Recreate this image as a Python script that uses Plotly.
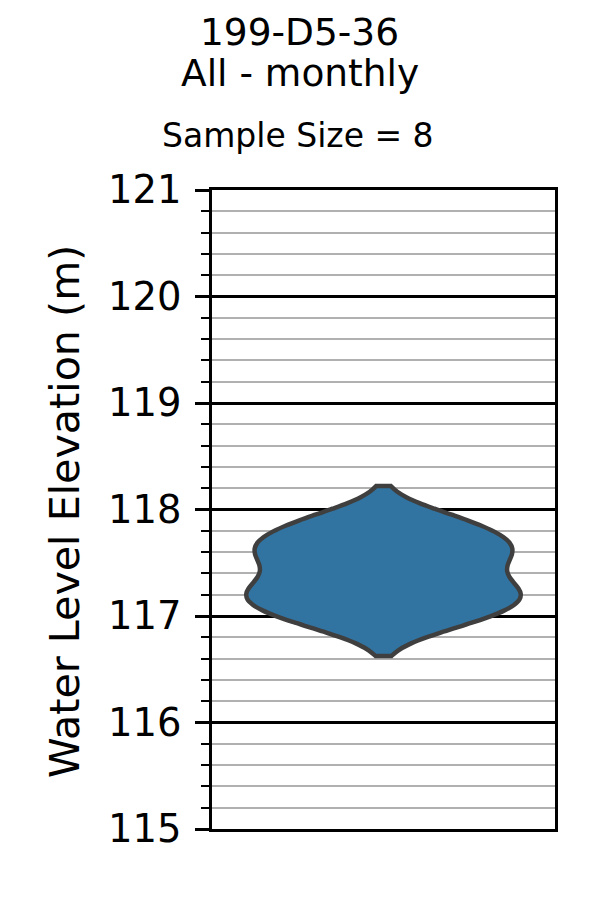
import plotly.graph_objects as go
import numpy as np

# ---- data ----
well_name = "199-D5-36"
subtitle = "All - monthly"
sample_size = 8
water_levels = [116.93, 117.09, 117.20, 117.30, 117.50, 117.62, 117.74, 117.91]  # m
span_low, span_high = 116.625, 118.22   # violin cut (data extent in the source)
y_ticks = [115, 116, 117, 118, 119, 120, 121]

# KDE bandwidth
bw = 0.16

FONT = "DejaVu Sans"
W, H = 600, 900
L, R, T, B = 212, 45, 190, 71
pw, ph = W - L - R, H - T - B


def px_to_paper_x(px):
    return (px - L) / pw


def px_to_paper_y(py):
    return (H - B - py) / ph


fig = go.Figure()
fig.add_trace(go.Violin(
    y=water_levels,
    x0=0,
    width=0.8,
    bandwidth=bw,
    spanmode="manual",
    span=[span_low, span_high],
    points=False,
    box_visible=False,
    meanline_visible=False,
    fillcolor="#3274a1",
    line=dict(color="#3f3f3f", width=4.5),
    opacity=1,
    showlegend=False,
    hoverinfo="skip",
))

fig.update_layout(
    width=W, height=H,
    margin=dict(l=L, r=R, t=T, b=B, autoexpand=False),
    paper_bgcolor="white", plot_bgcolor="white",
    template="none",
    font=dict(family=FONT, color="black"),
    xaxis=dict(
        range=[-0.5, 0.5], showticklabels=False, ticks="", showgrid=False,
        zeroline=False, showline=True, linecolor="black", linewidth=2.7,
        mirror=True, automargin=False,
    ),
    yaxis=dict(
        range=[min(y_ticks), max(y_ticks)], tickvals=y_ticks,
        ticks="outside", ticklen=14, tickwidth=2.6, tickcolor="black",
        tickfont=dict(size=38.5, family=FONT, color="black"),
        ticklabelstandoff=6,
        showgrid=True, gridcolor="black", gridwidth=2.6,
        zeroline=False, showline=True, linecolor="black", linewidth=2.7,
        mirror=True, automargin=False,
        minor=dict(dtick=0.2, tick0=115, ticks="outside", ticklen=8, tickwidth=1.7,
                   tickcolor="black", showgrid=True, gridcolor="#b0b0b0", gridwidth=2),
    ),
    annotations=[
        dict(text=well_name, x=px_to_paper_x(299.5), y=px_to_paper_y(31.5), xref="paper", yref="paper",
             xanchor="center", yanchor="middle", showarrow=False,
             font=dict(size=37.5, family=FONT, color="black")),
        dict(text=subtitle, x=px_to_paper_x(299.5), y=px_to_paper_y(73.5), xref="paper", yref="paper",
             xanchor="center", yanchor="middle", showarrow=False,
             font=dict(size=37.5, family=FONT, color="black")),
        dict(text=f"Sample Size = {sample_size}", x=px_to_paper_x(297.5), y=px_to_paper_y(135),
             xref="paper", yref="paper", xanchor="center", yanchor="middle", showarrow=False,
             font=dict(size=33, family=FONT, color="black")),
        dict(text="Water Level Elevation (m)", x=px_to_paper_x(64.5), y=px_to_paper_y(511.5),
             xref="paper", yref="paper", xanchor="center", yanchor="middle", showarrow=False,
             textangle=-90, font=dict(size=41.2, family=FONT, color="black")),
    ],
)

fig.write_html("out.html", config={"displayModeBar": False})
